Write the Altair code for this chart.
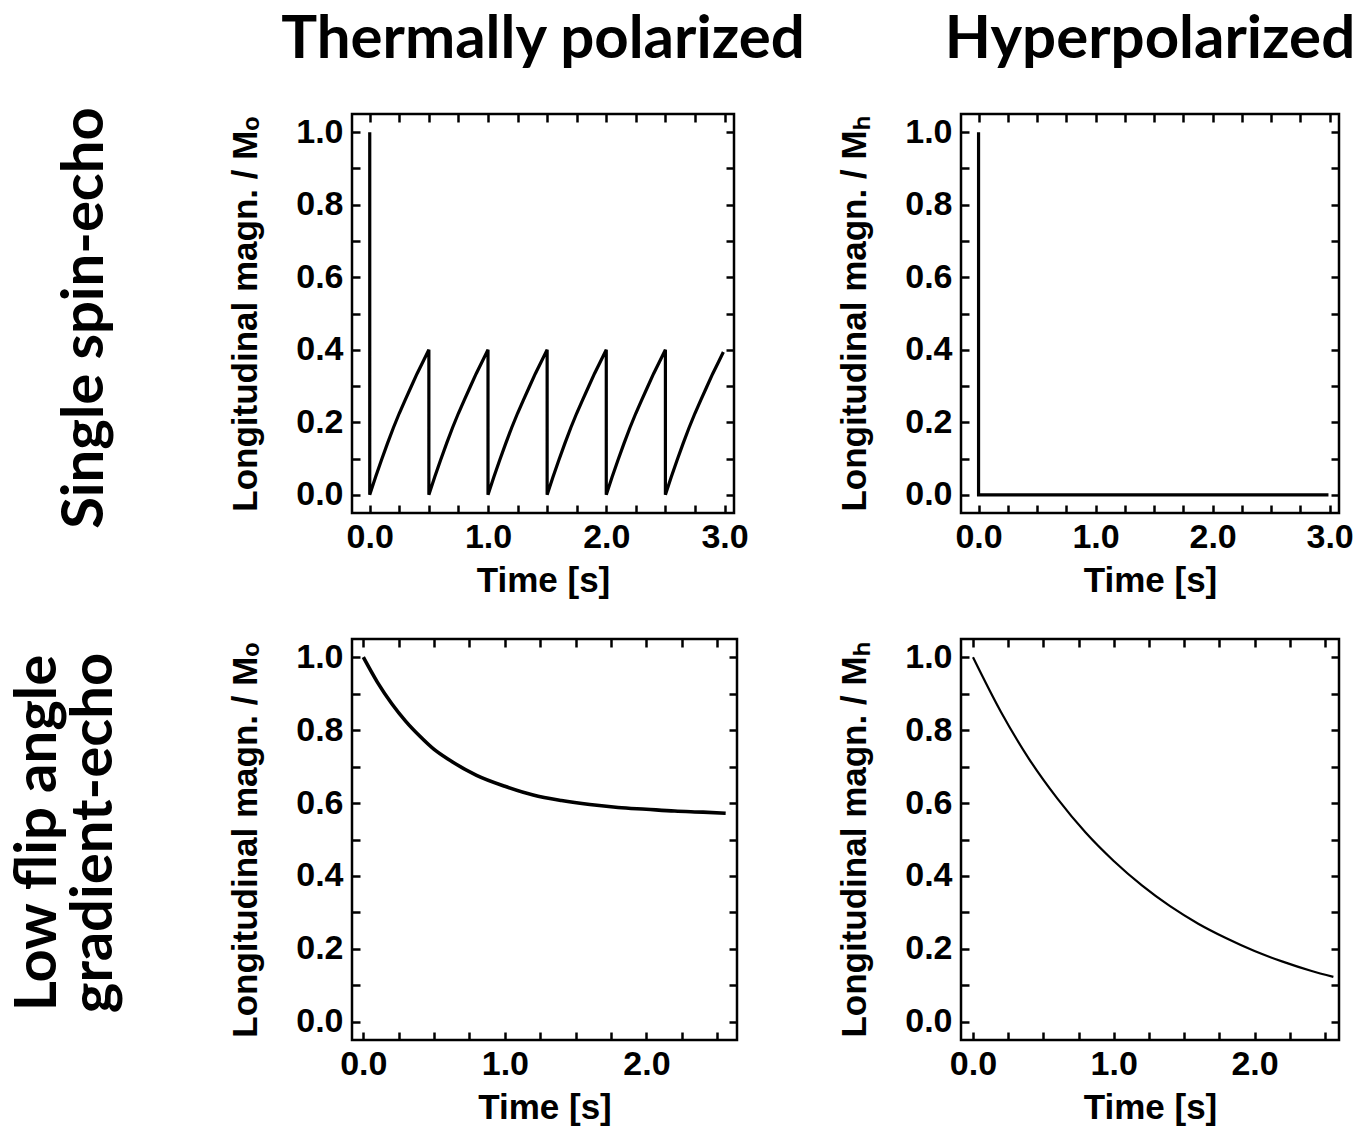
import altair as alt
import pandas as pd

# ---------------- data ----------------
col_titles = ["Thermally polarized", "Hyperpolarized"]
row_titles = ["Single spin-echo", "Low flip angle\ngradient-echo"]
y_titles = ["Longitudinal magn. / M\u2092", "Longitudinal magn. / M\u2095"]
x_title = "Time [s]"

# Thermally polarized, single spin-echo: one recovery cycle (offset within cycle, value)
se_cycle_offsets = [0.0, 0.05, 0.10, 0.15, 0.20, 0.25, 0.30, 0.35, 0.40, 0.45, 0.50]
se_cycle_values = [0.0, 0.050, 0.097, 0.142, 0.185, 0.225, 0.262, 0.298, 0.334, 0.367, 0.400]
se_cycle_starts = [0.0, 0.5, 1.0, 1.5, 2.0, 2.5]
se_start_value = 1.0
se_end_time = 2.99
se_end_value = 0.394

# Hyperpolarized, single spin-echo
hyp_se_t = [0.0, 0.0, 2.99]
hyp_se_m = [1.0, 0.0, 0.0]

# Thermally polarized, low flip angle gradient echo
th_ge_t = [0.0, 0.1, 0.2, 0.3, 0.4, 0.5, 0.6, 0.8, 1.0, 1.2, 1.4, 1.6, 1.8, 2.0, 2.2, 2.4, 2.56]
th_ge_m = [1.0, 0.931, 0.873, 0.824, 0.783, 0.747, 0.720, 0.676, 0.646, 0.622, 0.607, 0.596, 0.588, 0.583, 0.578, 0.575, 0.572]

# Hyperpolarized, low flip angle gradient echo
hy_ge_t = [0.0, 0.2, 0.4, 0.6, 0.8, 1.0, 1.2, 1.4, 1.6, 1.8, 2.0, 2.2, 2.4, 2.56]
hy_ge_m = [1.0, 0.849, 0.720, 0.612, 0.519, 0.441, 0.374, 0.317, 0.269, 0.229, 0.194, 0.165, 0.140, 0.123]

x_ticks_se = [0.0, 0.25, 0.5, 0.75, 1.0, 1.25, 1.5, 1.75, 2.0, 2.25, 2.5, 2.75, 3.0]
x_ticks_ge = [0.0, 0.25, 0.5, 0.75, 1.0, 1.25, 1.5, 1.75, 2.0, 2.25, 2.5]
y_ticks = [0.0, 0.1, 0.2, 0.3, 0.4, 0.5, 0.6, 0.7, 0.8, 0.9, 1.0]

# build the spin-echo trace table from the read cycle
th_se_t = [0.0]
th_se_m = [se_start_value]
for s in se_cycle_starts:
    for o, v in zip(se_cycle_offsets, se_cycle_values):
        if s + o <= se_end_time + 1e-9:
            th_se_t.append(round(s + o, 3))
            th_se_m.append(v)
if th_se_t[-1] < se_end_time:
    th_se_t.append(se_end_time)
    th_se_m.append(se_end_value)

AXIS_FONT = "Liberation Sans"
TITLE_FONT = "Lato"
TICK = 8

XLABEL = "abs(datum.value - round(datum.value)) < 0.001 ? format(datum.value, '.1f') : ''"
YLABEL = "abs(datum.value*5 - round(datum.value*5)) < 0.001 ? format(datum.value, '.1f') : ''"


def panel(t, m, xdom, xticks, w, h, ytitle, sw, interp, title=None):
    df = pd.DataFrame({"t": t, "m": m, "i": list(range(len(t)))})
    xs = alt.Scale(domain=xdom, nice=False, zero=False)
    ys = alt.Scale(domain=[-0.05, 1.05], nice=False, zero=False)
    tick_style = dict(tickSize=TICK, tickWidth=2.5, tickColor="black", offset=-TICK,
                      domain=False, grid=False)
    xb = alt.Axis(orient="bottom", values=xticks, labelExpr=XLABEL, title=x_title,
                  labelPadding=7, titlePadding=9, **tick_style)
    yl = alt.Axis(orient="left", values=y_ticks, labelExpr=YLABEL, title=ytitle,
                  labelPadding=9, titlePadding=32, **tick_style)
    xt = alt.Axis(orient="top", values=xticks, labels=False, title="", **tick_style)
    yr = alt.Axis(orient="right", values=y_ticks, labels=False, title="", **tick_style)
    base = alt.Chart(df)
    line = base.mark_line(color="black", strokeWidth=sw, interpolate=interp, clip=True).encode(
        x=alt.X("t:Q", scale=xs, axis=xb),
        y=alt.Y("m:Q", scale=ys, axis=yl),
        order="i:Q",
    )
    mirror = base.mark_line(strokeOpacity=0).encode(
        x=alt.X("t:Q", scale=xs, axis=xt),
        y=alt.Y("m:Q", scale=ys, axis=yr),
        order="i:Q",
    )
    ch = alt.layer(line, mirror).resolve_axis(x="independent", y="independent").properties(
        width=w, height=h)
    if title is not None:
        ch = ch.properties(title=alt.TitleParams(
            title, orient="top", anchor="middle", frame="group", font=TITLE_FONT,
            fontSize=60, fontWeight="bold", color="black", offset=42))
    return ch


def row_label(text, w, h, xpos, ypos):
    df = pd.DataFrame({"label": [text]})
    return alt.Chart(df).mark_text(
        angle=270, font=TITLE_FONT, fontSize=58, fontWeight="bold", color="black",
        lineBreak="\n", lineHeight=56, align="center", baseline="middle",
    ).encode(text="label:N", x=alt.value(xpos), y=alt.value(ypos)).properties(
        width=w, height=h, view=alt.ViewBackground(stroke="transparent"))


LW = 118
r1 = row_label(row_titles[0], LW, 399, 76, 204)
p11 = panel(th_se_t, th_se_m, [-0.15, 3.08], x_ticks_se, 382, 399, y_titles[0], 3.2, "linear", col_titles[0])
p12 = panel(hyp_se_t, hyp_se_m, [-0.15, 3.08], x_ticks_se, 378, 399, y_titles[1], 3.2, "linear", col_titles[1])
r2 = row_label(row_titles[1], LW, 401, 29, 194)
p21 = panel(th_ge_t, th_ge_m, [-0.08, 2.64], x_ticks_ge, 385, 401, y_titles[0], 3.6, "monotone")
p22 = panel(hy_ge_t, hy_ge_m, [-0.085, 2.60], x_ticks_ge, 378, 401, y_titles[1], 2.2, "monotone")

chart = alt.concat(
    r1, p11, p12, r2, p21, p22, columns=3, bounds="flush", align="none",
    spacing={"row": 126, "column": 224},
).configure_view(
    stroke="black", strokeWidth=2.5
).configure_axis(
    labelFont=AXIS_FONT, labelFontSize=34, labelFontWeight="bold", labelColor="black",
    titleFont=AXIS_FONT, titleFontSize=35, titleFontWeight="bold", titleColor="black",
).properties(background="white", padding=0)

chart.save("out.html", embed_options={"renderer": "svg", "actions": False})
